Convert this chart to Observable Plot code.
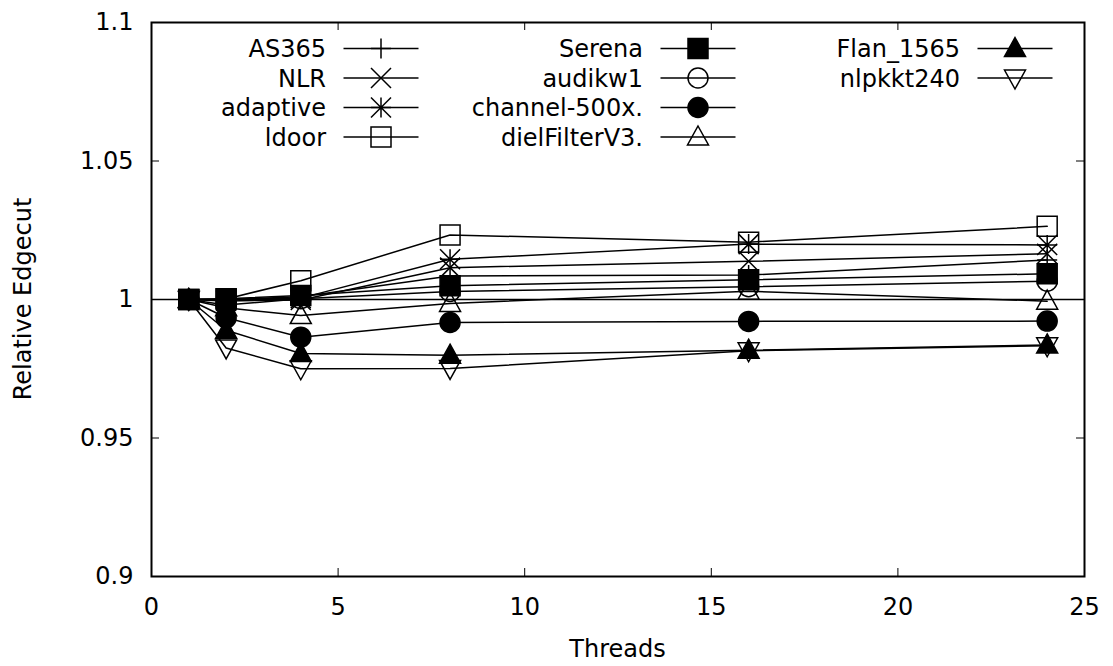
<!DOCTYPE html>
<html><head><meta charset="utf-8">
<script src="https://cdn.jsdelivr.net/npm/d3@7"></script>
<script src="https://cdn.jsdelivr.net/npm/@observablehq/plot@0.6"></script>
<style>body{margin:0;background:#fff} #chart{width:1113px;height:666px}</style>
</head><body><div id="chart"></div>
<script>
// ---- data ----
const threads = [1, 2, 4, 8, 16, 24];
const AS365      = [1, 1.0000, 1.0010, 1.0085, 1.0088, 1.0143];
const NLR        = [1, 0.9995, 0.9998, 1.0115, 1.0138, 1.0165];
const adaptive   = [1, 1.0000, 1.0005, 1.0145, 1.0200, 1.0197];
const ldoor      = [1, 1.0002, 1.0068, 1.0233, 1.0207, 1.0264];
const Serena     = [1, 1.0003, 1.0014, 1.0050, 1.0071, 1.0093];
const audikw1    = [1, 0.9980, 1.0003, 1.0029, 1.0046, 1.0066];
const channel500 = [1, 0.9934, 0.9864, 0.9917, 0.9921, 0.9922];
const dielFilter = [1, 0.9970, 0.9942, 0.9986, 1.0030, 0.9994];
const Flan1565   = [1, 0.9889, 0.9805, 0.9799, 0.9817, 0.9836];
const nlpkkt240  = [1, 0.9825, 0.9750, 0.9751, 0.9815, 0.9833];
const seriesNames = ["AS365","NLR","adaptive","ldoor","Serena","audikw1","channel-500x.","dielFilterV3.","Flan_1565","nlpkkt240"];
const seriesValues = [AS365, NLR, adaptive, ldoor, Serena, audikw1, channel500, dielFilter, Flan1565, nlpkkt240];
const xTicks = [0, 5, 10, 15, 20, 25];
const yTicks = [0.9, 0.95, 1, 1.05, 1.1];
const yTickLabels = ["0.9", "0.95", "1", "1.05", "1.1"];
const xLabel = "Threads";
const yLabel = "Relative Edgecut";

// ---- symbols (gnuplot style) ----
function sym(fn){ return {draw(c, size){ const h = Math.sqrt(size/Math.PI); fn(c, h); }}; }
const symPlus = sym((c,h)=>{c.moveTo(-h,0);c.lineTo(h,0);c.moveTo(0,-h);c.lineTo(0,h);});
const symTimes = sym((c,h)=>{c.moveTo(-h,-h);c.lineTo(h,h);c.moveTo(-h,h);c.lineTo(h,-h);});
const symStar = sym((c,h)=>{c.moveTo(-h,0);c.lineTo(h,0);c.moveTo(0,-h);c.lineTo(0,h);c.moveTo(-h,-h);c.lineTo(h,h);c.moveTo(-h,h);c.lineTo(h,-h);});
const symSquare = sym((c,h)=>{c.moveTo(-h,-h);c.lineTo(h,-h);c.lineTo(h,h);c.lineTo(-h,h);c.closePath();});
const symCircle = sym((c,h)=>{c.moveTo(h,0);c.arc(0,0,h,0,2*Math.PI);c.closePath();});
const symTriUp = sym((c,h)=>{c.moveTo(0,-1.1*h);c.lineTo(1.05*h,0.8*h);c.lineTo(-1.05*h,0.8*h);c.closePath();});
const symTriDown = sym((c,h)=>{c.moveTo(0,1.1*h);c.lineTo(1.05*h,-0.8*h);c.lineTo(-1.05*h,-0.8*h);c.closePath();});
const styles = [
  {symbol: symPlus, fill: "none"},
  {symbol: symTimes, fill: "none"},
  {symbol: symStar, fill: "none"},
  {symbol: symSquare, fill: "none"},
  {symbol: symSquare, fill: "black"},
  {symbol: symCircle, fill: "none"},
  {symbol: symCircle, fill: "black"},
  {symbol: symTriUp, fill: "none"},
  {symbol: symTriUp, fill: "black"},
  {symbol: symTriDown, fill: "none"}
];

const W = 1113, H = 666, mL = 151, mR = 29, mT = 22, mB = 90;
const plotW = W - mL - mR, plotH = H - mT - mB;
const tick = 8, R = 10, FONT = "DejaVu Sans", FS = 24;

const marks = [
  Plot.ruleY([1], {stroke: "black", strokeWidth: 1.3}),
];
seriesNames.forEach((name, i) => {
  const rows = threads.map((t, j) => ({series: name, x: t, y: seriesValues[i][j]}));
  marks.push(Plot.line(rows, {x: "x", y: "y", stroke: "black", strokeWidth: 1.5}));
  marks.push(Plot.dot(rows, {x: "x", y: "y", r: R, symbol: styles[i].symbol, fill: styles[i].fill, stroke: "black", strokeWidth: 1.5}));
});
marks.push(
  Plot.tickX(xTicks.slice(1, -1), {x: d => d, insetTop: plotH - tick, stroke: "black", strokeWidth: 1}),
  Plot.tickX(xTicks.slice(1, -1), {x: d => d, insetBottom: plotH - tick, stroke: "black", strokeWidth: 1}),
  Plot.tickY(yTicks.slice(1, -1), {y: d => d, insetRight: plotW - tick, stroke: "black", strokeWidth: 1}),
  Plot.tickY(yTicks.slice(1, -1), {y: d => d, insetLeft: plotW - tick, stroke: "black", strokeWidth: 1}),
  Plot.axisX(xTicks, {tickSize: 0, tickPadding: 21, fontSize: FS, label: null}),
  Plot.axisY(yTicks, {tickSize: 0, tickPadding: 18, fontSize: FS, label: null, tickFormat: d => yTickLabels[yTicks.indexOf(d)]}),
  Plot.frame({stroke: "black", strokeWidth: 2})
);

const chart = Plot.plot({
  width: W, height: H,
  marginLeft: mL, marginRight: mR, marginTop: mT, marginBottom: mB,
  x: {domain: [0, 25]},
  y: {domain: [0.9, 1.1]},
  style: {fontFamily: FONT, fontSize: FS + "px", color: "black", background: "white"},
  marks
});
document.getElementById("chart").appendChild(chart);

// ---- axis titles and legend ----
const svg = d3.select(chart);
svg.append("text").attr("x", mL + plotW/2).attr("y", 657).attr("text-anchor", "middle")
  .attr("font-family", FONT).attr("font-size", FS).attr("fill", "black").text(xLabel);
svg.append("text").attr("transform", `translate(31,${mT + plotH/2}) rotate(-90)`).attr("text-anchor", "middle")
  .attr("font-family", FONT).attr("font-size", FS).attr("fill", "black").text(yLabel);

const colX = [381, 698, 1015], row0 = 48.5, rowH = 29.5;
const perCol = [4, 4, 2];
const lg = svg.append("g").attr("font-family", FONT).attr("font-size", FS);
let k = 0;
perCol.forEach((n, c) => {
  for (let r = 0; r < n; r++, k++) {
    const mx = colX[c], my = row0 + r * rowH;
    lg.append("text").attr("x", mx - 55).attr("y", my).attr("dy", "0.36em").attr("text-anchor", "end").attr("fill", "black").text(seriesNames[k]);
    lg.append("line").attr("x1", mx - 37.5).attr("x2", mx + 37.5).attr("y1", my).attr("y2", my).attr("stroke", "black").attr("stroke-width", 1.5);
    lg.append("path").attr("transform", `translate(${mx},${my})`).attr("d", d3.symbol(styles[k].symbol, Math.PI * R * R)())
      .attr("fill", styles[k].fill).attr("stroke", "black").attr("stroke-width", 1.5);
  }
});
</script>
</body></html>
